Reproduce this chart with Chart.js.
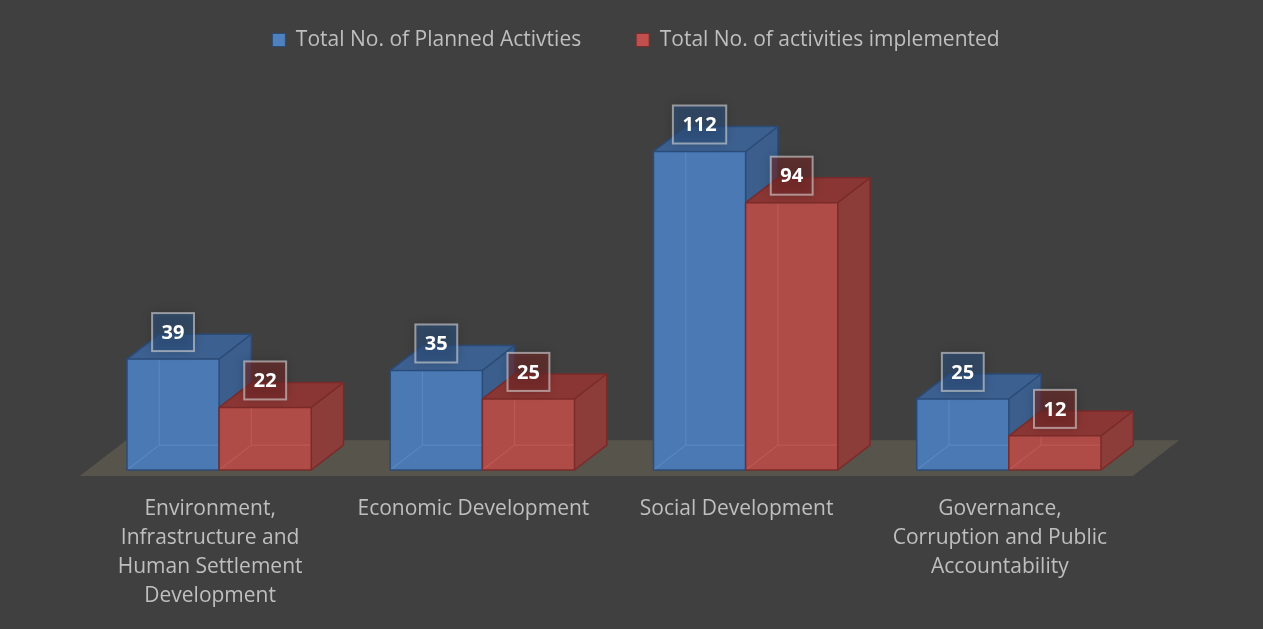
<!DOCTYPE html>
<html>
<head>
<meta charset="utf-8">
<script src="https://cdn.jsdelivr.net/npm/chart.js@4.4.1/dist/chart.umd.min.js"></script>
<style>
  html, body { margin: 0; padding: 0; background: #404040; }
  #wrap { width: 1263px; height: 629px; }
</style>
</head>
<body>
<div id="wrap"><canvas id="chart" width="1263" height="629"></canvas></div>
<script>
// ---------- data ----------
const categories = [
    ["Environment,", "Infrastructure and", "Human Settlement", "Development"],
    "Economic Development",
    "Social Development",
    ["Governance,", "Corruption and Public", "Accountability"]
];
const seriesNames = ["Total No. of Planned Activties", "Total No. of activities implemented"];
const planned = [39, 35, 112, 25];
const implemented = [22, 25, 94, 12];

const FONT = "'Open Sans', 'Noto Sans', sans-serif";
const TEXT = "#bfbfbf";

const faces = [
    { front: "#4a79b3", top: "#3c6090", side: "#3b5e8c", edge: "#2b4b78", inner: "rgba(120,160,210,0.35)", label: "rgba(45,80,125,0.6)" },
    { front: "#b04c48", top: "#8a3634", side: "#8c3c39", edge: "#7a2b29", inner: "rgba(215,110,105,0.35)", label: "rgba(115,40,40,0.6)" }
];

// ---------- 3D bars ----------
function drawBox(ctx, l, r, top, base, dx, dy, c) {
    ctx.save();
    ctx.fillStyle = c.front;
    ctx.fillRect(l, top, r - l, base - top);
    // hidden edges seen through the front
    ctx.strokeStyle = c.inner;
    ctx.lineWidth = 1.2;
    ctx.beginPath();
    ctx.moveTo(l, base); ctx.lineTo(l + dx, base + dy);
    ctx.lineTo(r + dx, base + dy);
    ctx.moveTo(l + dx, base + dy); ctx.lineTo(l + dx, top + dy);
    ctx.stroke();
    // top
    ctx.fillStyle = c.top;
    ctx.beginPath();
    ctx.moveTo(l, top); ctx.lineTo(l + dx, top + dy); ctx.lineTo(r + dx, top + dy); ctx.lineTo(r, top);
    ctx.closePath(); ctx.fill();
    // side
    ctx.fillStyle = c.side;
    ctx.beginPath();
    ctx.moveTo(r, top); ctx.lineTo(r + dx, top + dy); ctx.lineTo(r + dx, base + dy); ctx.lineTo(r, base);
    ctx.closePath(); ctx.fill();
    // outline
    ctx.strokeStyle = c.edge;
    ctx.lineWidth = 1.5;
    ctx.lineJoin = "round";
    ctx.strokeRect(l, top, r - l, base - top);
    ctx.beginPath();
    ctx.moveTo(l, top); ctx.lineTo(l + dx, top + dy); ctx.lineTo(r + dx, top + dy); ctx.lineTo(r, top);
    ctx.moveTo(r + dx, top + dy); ctx.lineTo(r + dx, base + dy); ctx.lineTo(r, base);
    ctx.stroke();
    ctx.restore();
}

const bars3d = {
    id: "bars3d",
    afterLayout(chart) {
        // legend sits a little right of the plot centre
        chart.legend.left += 22;
        chart.legend.right += 22;
    },
    beforeDatasetsDraw(chart) {
        const ctx = chart.ctx;
        const area = chart.chartArea;
        const metas = chart.data.datasets.map((d, i) => chart.getDatasetMeta(i));
        const w0 = metas[0].data[0].getProps(["width"], true).width;
        const dx = w0 * 0.35, dy = -w0 * 0.27;

        // floor
        const b = chart.scales.y.getPixelForValue(0);
        const f0 = -0.24, f1 = 1.2;
        ctx.save();
        ctx.fillStyle = "#57544b";
        ctx.beginPath();
        ctx.moveTo(area.left + dx * f0, b + dy * f0);
        ctx.lineTo(area.right + dx * f0, b + dy * f0);
        ctx.lineTo(area.right + dx * f1, b + dy * f1);
        ctx.lineTo(area.left + dx * f1, b + dy * f1);
        ctx.closePath(); ctx.fill();
        ctx.restore();

        // bars, category by category so the red front sits over the blue side
        const labels = [];
        categories.forEach((c, i) => {
            metas.forEach((m, di) => {
                const p = m.data[i].getProps(["x", "y", "base", "width"], true);
                const l = p.x - p.width / 2, r = p.x + p.width / 2;
                drawBox(ctx, l, r, p.y, p.base, dx, dy, faces[di]);
                labels.push({ x: p.x, y: p.y, v: chart.data.datasets[di].data[i], c: faces[di] });
            });
        });

        // value labels
        ctx.save();
        ctx.font = "bold 20px " + FONT;
        ctx.textAlign = "center";
        ctx.textBaseline = "middle";
        labels.forEach(lb => {
            const t = String(lb.v);
            const tw = ctx.measureText(t).width;
            const bw = tw + 19, bh = 38;
            const cy = lb.y - 27;
            ctx.save();
            ctx.shadowColor = "rgba(0,0,0,0.35)";
            ctx.shadowBlur = 10;
            ctx.fillStyle = lb.c.label;
            ctx.fillRect(lb.x - bw / 2, cy - bh / 2, bw, bh);
            ctx.restore();
            ctx.strokeStyle = "rgba(215,215,215,0.6)";
            ctx.lineWidth = 2;
            ctx.strokeRect(lb.x - bw / 2, cy - bh / 2, bw, bh);
            ctx.fillStyle = "#ffffff";
            ctx.fillText(t, lb.x, cy + 1);
        });
        ctx.restore();
        return false;
    }
};

new Chart(document.getElementById("chart"), {
    type: "bar",
    data: {
        labels: categories,
        datasets: [
            { label: seriesNames[0], data: planned, backgroundColor: "#4f81bd", borderColor: "#2b4b78", borderWidth: 1 },
            { label: seriesNames[1], data: implemented, backgroundColor: "#c0504d", borderColor: "#7a2b29", borderWidth: 1 }
        ]
    },
    options: {
        responsive: false,
        animation: false,
        events: [],
        layout: { padding: { top: -25.5, left: 87.5, right: 122.5, bottom: -6 } },
        datasets: { bar: { categoryPercentage: 0.7, barPercentage: 1.0 } },
        plugins: {
            legend: {
                position: "top",
                labels: {
                    color: TEXT,
                    boxWidth: 13,
                    boxHeight: 13,
                    padding: 55,
                    font: { family: FONT, size: 21 }
                }
            },
            tooltip: { enabled: false }
        },
        scales: {
            x: {
                grid: { display: false, drawTicks: false },
                border: { display: false },
                ticks: {
                    color: TEXT,
                    padding: 24.5,
                    labelOffset: -9,
                    maxRotation: 0,
                    autoSkip: false,
                    font: { family: FONT, size: 21, lineHeight: 1.381 }
                }
            },
            y: { display: false, min: 0, max: 144 }
        }
    },
    plugins: [bars3d]
});
</script>
</body>
</html>
